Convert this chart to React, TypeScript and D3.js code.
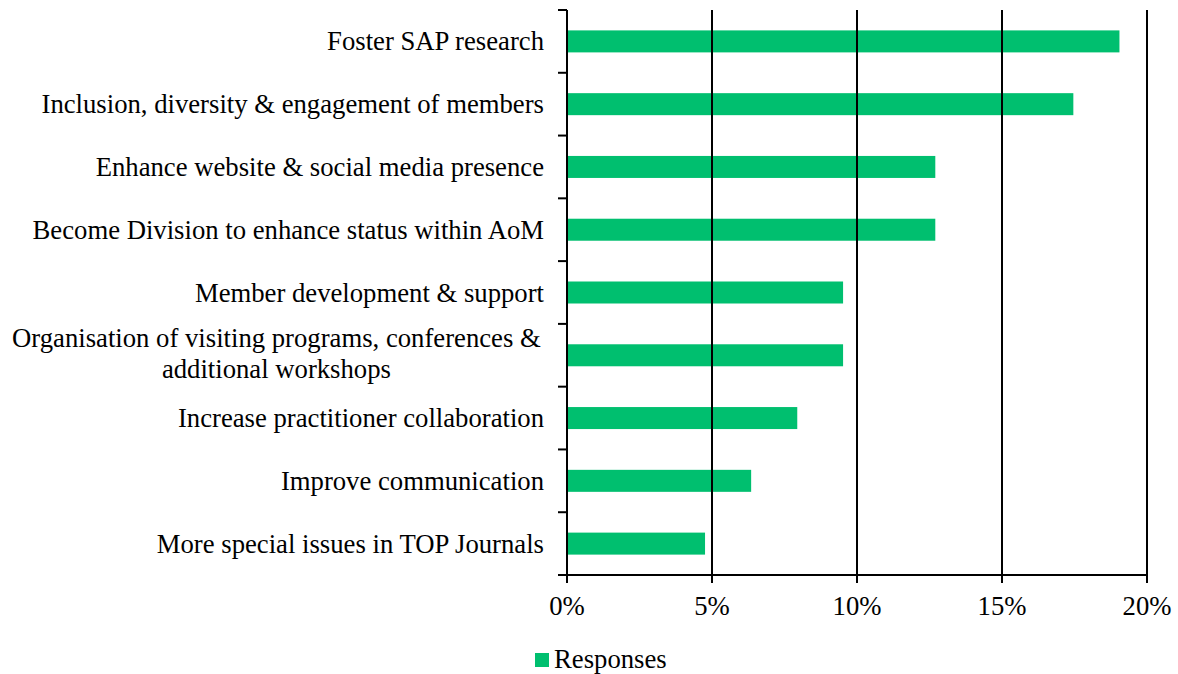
import React, { useEffect, useRef } from "react";
import * as d3 from "d3";

const categories: string[][] = [
  ["Foster SAP research"],
  ["Inclusion, diversity & engagement of members"],
  ["Enhance website & social media presence"],
  ["Become Division to enhance status within AoM"],
  ["Member development & support"],
  ["Organisation of visiting programs, conferences &", "additional workshops"],
  ["Increase practitioner collaboration"],
  ["Improve communication"],
  ["More special issues in TOP Journals"],
];
const responses: number[] = [0.1905, 0.1746, 0.127, 0.127, 0.0952, 0.0952, 0.0794, 0.0635, 0.0476];
const xTicks: number[] = [0, 0.05, 0.1, 0.15, 0.2];
const seriesName = "Responses";

const W = 1178;
const H = 674;
const FONT = "'Liberation Serif', 'Times New Roman', serif";
const FS = 26.7;
const GREEN = "#00BF6F";

export default function App() {
  const ref = useRef<SVGSVGElement | null>(null);

  useEffect(() => {
    const svg = d3.select(ref.current);
    svg.selectAll("*").remove();
    const left = 567, right = 1147, top = 10, bottom = 575;
    const x = d3.scaleLinear().domain([0, 0.2]).range([left, right]);
    const y = d3
      .scaleBand<number>()
      .domain(d3.range(categories.length))
      .range([top, bottom])
      .paddingInner(0)
      .paddingOuter(0);
    const bh = 22;

    // bars
    svg
      .append("g")
      .selectAll("rect")
      .data(responses)
      .join("rect")
      .attr("x", x(0))
      .attr("y", (_, i) => (y(i) as number) + y.bandwidth() / 2 - bh / 2)
      .attr("width", (d) => x(d) - x(0))
      .attr("height", bh)
      .attr("fill", GREEN);

    // gridlines
    svg
      .append("g")
      .selectAll("line")
      .data(xTicks.filter((t) => t > 0))
      .join("line")
      .attr("x1", (d) => x(d))
      .attr("x2", (d) => x(d))
      .attr("y1", top)
      .attr("y2", bottom)
      .attr("stroke", "#000")
      .attr("stroke-width", 2);

    // left axis
    const g = svg.append("g");
    g.append("line")
      .attr("x1", left)
      .attr("x2", left)
      .attr("y1", top)
      .attr("y2", bottom)
      .attr("stroke", "#000")
      .attr("stroke-width", 2);
    const boundaries = d3.range(categories.length + 1).map((i) => top + i * y.step());
    g.selectAll("line.tk")
      .data(boundaries)
      .join("line")
      .attr("class", "tk")
      .attr("x1", left - 9)
      .attr("x2", left)
      .attr("y1", (d) => d)
      .attr("y2", (d) => d)
      .attr("stroke", "#000")
      .attr("stroke-width", 2);

    // bottom axis
    g.append("line")
      .attr("x1", left - 9)
      .attr("x2", right)
      .attr("y1", bottom)
      .attr("y2", bottom)
      .attr("stroke", "#000")
      .attr("stroke-width", 2);
    g.selectAll("line.xt")
      .data(xTicks)
      .join("line")
      .attr("class", "xt")
      .attr("x1", (d) => x(d))
      .attr("x2", (d) => x(d))
      .attr("y1", bottom)
      .attr("y2", bottom + 8)
      .attr("stroke", "#000")
      .attr("stroke-width", 2);
    g.selectAll("text.xl")
      .data(xTicks)
      .join("text")
      .attr("class", "xl")
      .attr("x", (d) => x(d))
      .attr("y", 615)
      .attr("text-anchor", "middle")
      .attr("font-family", FONT)
      .attr("font-size", FS)
      .attr("fill", "#000")
      .text((d) => d3.format(".0%")(d));

    // category labels
    const labelRight = 544;
    categories.forEach((lines, i) => {
      const cy = (y(i) as number) + y.bandwidth() / 2;
      if (lines.length === 1) {
        svg
          .append("text")
          .attr("x", labelRight)
          .attr("y", cy + 9)
          .attr("text-anchor", "end")
          .attr("font-family", FONT)
          .attr("font-size", FS)
          .attr("fill", "#000")
          .text(lines[0]);
      } else {
        const tg = svg.append("g");
        const texts = lines.map((l, k) =>
          tg
            .append("text")
            .attr("y", cy - 8 + k * 31)
            .attr("text-anchor", "middle")
            .attr("font-family", FONT)
            .attr("font-size", FS)
            .attr("fill", "#000")
            .text(l)
        );
        const widths = texts.map((t) => (t.node() as SVGTextElement).getComputedTextLength());
        const maxW = Math.max(...widths) + 6.5;
        const cx = labelRight - maxW / 2;
        texts.forEach((t) => t.attr("x", cx));
      }
    });

    // legend
    svg
      .append("rect")
      .attr("x", 535)
      .attr("y", 653)
      .attr("width", 14)
      .attr("height", 14)
      .attr("fill", GREEN);
    svg
      .append("text")
      .attr("x", 554)
      .attr("y", 668)
      .attr("font-family", FONT)
      .attr("font-size", FS)
      .attr("fill", "#000")
      .text(seriesName);
  }, []);

  return (
    <svg
      ref={ref}
      width={W}
      height={H}
      style={{ position: "absolute", left: 0, top: 0, background: "#fff" }}
    />
  );
}
